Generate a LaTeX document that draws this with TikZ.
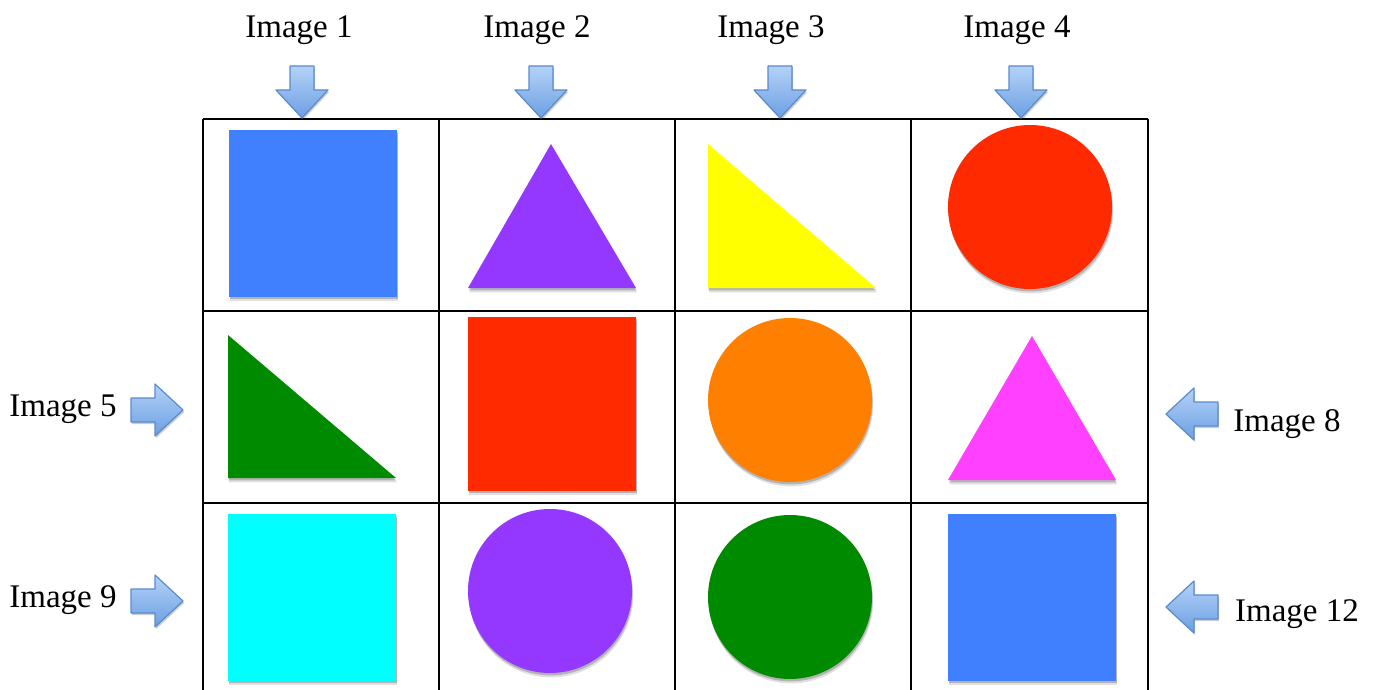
\documentclass[tikz,border=0pt]{standalone}
\usepackage{fontspec}
\setmainfont{Liberation Serif}
\usetikzlibrary{shadows,positioning}
\definecolor{FigBlue}{HTML}{4080FF}
\definecolor{FigPurple}{HTML}{9538FF}
\definecolor{FigYellow}{HTML}{FFFF00}
\definecolor{FigRed}{HTML}{FF2A00}
\definecolor{FigGreen}{HTML}{008A00}
\definecolor{FigOrange}{HTML}{FF7F00}
\definecolor{FigMagenta}{HTML}{FF40FF}
\definecolor{FigCyan}{HTML}{00FFFF}
\definecolor{ArrowTop}{HTML}{B4D2F8}
\definecolor{ArrowBottom}{HTML}{6C9FE2}
\definecolor{ArrowEdge}{HTML}{5A8BCC}

\begin{document}
\begin{tikzpicture}[x=0.5pt,y=-0.5pt]
    \tikzset{gridline/.style={line width=1pt},
      figshape/.style={drop shadow={shadow xshift=0.6pt,shadow yshift=-2.2pt,opacity=0.12,fill=black},
        drop shadow={shadow xshift=0.3pt,shadow yshift=-1.2pt,opacity=0.2,fill=black}},
      imglabel/.style={font=\fontsize{16.5}{19}\selectfont,inner sep=0pt},
      blkarrow/.style={draw=ArrowEdge,line width=0.6pt,top color=ArrowTop,bottom color=ArrowBottom,line join=round,
        drop shadow={shadow xshift=0.6pt,shadow yshift=-1pt,opacity=0.2,fill=black}},
      dnarrow/.pic={\path[blkarrow] (0,0) -- (-26,-28) -- (-12,-28) -- (-12,-52) -- (12,-52) -- (12,-28) -- (26,-28) -- cycle;}}
    \useasboundingbox (0,0) rectangle (1377,690);
    % grid of cells
    \foreach \y in {119,311,503}
      \draw[gridline] (203,\y) -- (1148,\y);
    \foreach \x in {203,439,675,911,1148}
      \draw[gridline] (\x,119) -- (\x,700);
    % labels
    \node[imglabel] (lbl1) at (299,30) {Image 1};
    \node[imglabel] (lbl2) at (537,30) {Image 2};
    \node[imglabel] (lbl3) at (771,30) {Image 3};
    \node[imglabel] (lbl4) at (1017,30) {Image 4};
    \node[imglabel] (lbl5) at (63,409) {Image 5};
    \node[imglabel] (lbl8) at (1287,424) {Image 8};
    \node[imglabel] (lbl9) at (63,600) {Image 9};
    \node[imglabel] (lbl12) at (1297,614) {Image 12};
    % arrows
    \foreach \x in {302,541,780,1021}
      \pic at (\x,118) {dnarrow};
    \pic[rotate=90] at (183,410) {dnarrow};
    \pic[rotate=90] at (183,601) {dnarrow};
    \pic[rotate=-90] at (1166,414) {dnarrow};
    \pic[rotate=-90] at (1166,607) {dnarrow};
    % row 1
    \fill[figshape,fill=FigBlue] (229,130) rectangle (397,297);
    \fill[figshape,fill=FigPurple] (551,144) -- (636,288) -- (468,288) -- cycle;
    \fill[figshape,fill=FigYellow] (708,144) -- (876,288) -- (708,288) -- cycle;
    \fill[figshape,fill=FigRed] (1030,207) circle (82);
    % row 2
    \fill[figshape,fill=FigGreen] (228,335) -- (396,478) -- (228,478) -- cycle;
    \fill[figshape,fill=FigRed] (468,317) rectangle (636,491);
    \fill[figshape,fill=FigOrange] (790,400) circle (82);
    \fill[figshape,fill=FigMagenta] (1032,336) -- (1116,480) -- (948,480) -- cycle;
    % row 3
    \fill[figshape,fill=FigCyan] (228,514) rectangle (396,681);
    \fill[figshape,fill=FigPurple] (550,591) circle (82);
    \fill[figshape,fill=FigGreen] (790,597) circle (82);
    \fill[figshape,fill=FigBlue] (948,514) rectangle (1116,681);
  \end{tikzpicture}
\end{document}
